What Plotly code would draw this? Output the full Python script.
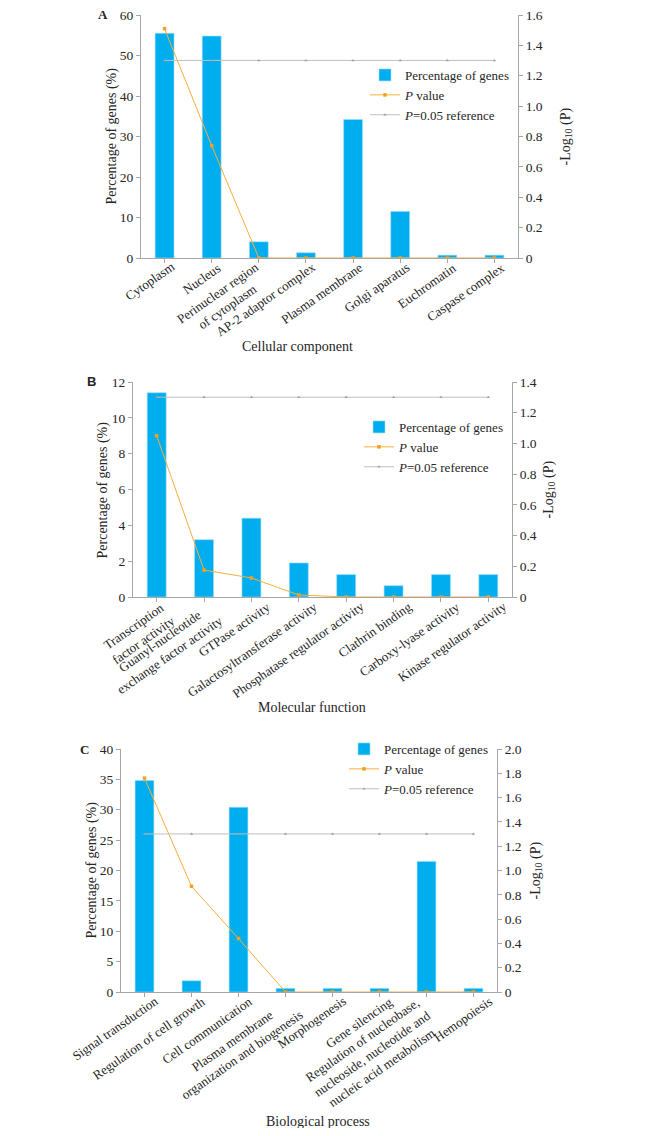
import plotly.graph_objects as go

# ---------------- data ----------------
cc_categories = ["Cytoplasm", "Nucleus", "Perinuclear region<br>of cytoplasm", "AP-2 adaptor complex",
                 "Plasma membrane", "Golgi aparatus", "Euchromatin", "Caspase complex"]
cc_percent = [55.5, 54.8, 4.0, 1.3, 34.2, 11.5, 0.7, 0.7]
cc_logp = [1.51, 0.74, 0.0, 0.0, 0.0, 0.0, 0.0, 0.0]

mf_categories = ["Transcription<br>factor activity", "Guanyl-nucleotide<br>exchange factor activity",
                 "GTPase activity", "Galactosyltransferase activity", "Phosphatase regulator activity",
                 "Clathrin binding", "Carboxy-lyase activity", "Kinase regulator activity"]
mf_percent = [11.4, 3.2, 4.4, 1.9, 1.25, 0.63, 1.25, 1.25]
mf_logp = [1.05, 0.175, 0.124, 0.013, 0.0, 0.0, 0.0, 0.0]

bp_categories = ["Signal transduction", "Regulation of cell growth", "Cell communication",
                 "Plasma membrane<br>organization and biogenesis", "Morphogenesis", "Gene silencing",
                 "Regulation of nucleobase,<br>nucleoside, nucleotide and<br>nucleic acid metabolism",
                 "Hemopoiesis"]
bp_percent = [34.8, 1.85, 30.4, 0.6, 0.6, 0.6, 21.5, 0.6]
bp_logp = [1.76, 0.87, 0.44, 0.0, 0.0, 0.0, 0.0, 0.0]

ref_value = 1.301  # -log10(0.05)

panel_letters = ["A", "B", "C"]
axis_titles = ["Cellular component", "Molecular function", "Biological process"]
left_ticks = [[0, 10, 20, 30, 40, 50, 60], [0, 2, 4, 6, 8, 10, 12], [0, 5, 10, 15, 20, 25, 30, 35, 40]]
right_ticks = [[0, 0.2, 0.4, 0.6, 0.8, 1.0, 1.2, 1.4, 1.6],
               [0, 0.2, 0.4, 0.6, 0.8, 1.0, 1.2, 1.4],
               [0, 0.2, 0.4, 0.6, 0.8, 1.0, 1.2, 1.4, 1.6, 1.8, 2.0]]

# ---------------- layout geometry (page pixels; body margin is 8px) ----------------
PAGE_W, PAGE_H, BODY = 648, 1136, 8
W, H = PAGE_W - 2 * BODY, PAGE_H - 2 * BODY
FONT = "Liberation Serif"
TXT = "#262626"
BAR = "#00AEEF"
ORANGE = "#F7AE3C"
GREY = "#BFBFBF"
AXC = "#A6A6A6"

panels = [
    dict(cats=cc_categories, pct=cc_percent, lp=cc_logp, x0=141, x1=518, y0=15, y1=258,
         ltitle_x=112, rtitle_x=566, letter_x=103, letter_font="Liberation Serif",
         xt_y=347, xt_x=297, leg_x=365, leg_y=60, lab_shift=15, extra=[0] * 8),
    dict(cats=mf_categories, pct=mf_percent, lp=mf_logp, x0=133, x1=512, y0=382, y1=597,
         ltitle_x=102, rtitle_x=549, letter_x=92, letter_font="Liberation Sans",
         xt_y=707, xt_x=312, leg_x=359, leg_y=412, lab_shift=24, extra=[0] * 8),
    dict(cats=bp_categories, pct=bp_percent, lp=bp_logp, x0=121, x1=497, y0=749, y1=992,
         ltitle_x=91, rtitle_x=536, letter_x=84, letter_font="Liberation Serif",
         xt_y=1121, xt_x=318, leg_x=344, leg_y=734, lab_shift=19,
         extra=[0, 0, 0, 4, 0, 0, 1, 5]),
]

def px_x(v):
    return (v - BODY) / W

def px_y(v):
    return 1 - (v - BODY) / H

fig = go.Figure()
annotations = []
layout = {}

for i, p in enumerate(panels):
    n = i + 1
    xa = "x" if n == 1 else f"x{n}"
    ya_l = f"y{2*n-1}" if n > 1 else "y"
    ya_r = f"y{2*n}"
    leg = "legend" if n == 1 else f"legend{n}"
    idx = list(range(len(p["cats"])))

    fig.add_trace(go.Bar(x=idx, y=p["pct"], xaxis=xa, yaxis=ya_l, name="Percentage of genes",
                         marker=dict(color=BAR, line=dict(color="#9EDCF5", width=0.6)),
                         width=0.4, legend=leg))
    fig.add_trace(go.Scatter(x=idx, y=p["lp"], xaxis=xa, yaxis=ya_r, name="<i>P</i> value",
                             mode="lines+markers", line=dict(color=ORANGE, width=1),
                             marker=dict(color="#F5A01E", size=3.5, symbol="square"), legend=leg))
    fig.add_trace(go.Scatter(x=idx, y=[ref_value] * len(idx), xaxis=xa, yaxis=ya_r,
                             name="<i>P</i>=0.05 reference", mode="lines+markers",
                             line=dict(color=GREY, width=1),
                             marker=dict(color="#A0A0A0", size=3, symbol="triangle-up"), legend=leg))

    xdom = [px_x(p["x0"]), px_x(p["x1"])]
    ydom = [px_y(p["y1"]), px_y(p["y0"])]
    xkey = "xaxis" if n == 1 else f"xaxis{n}"
    ylkey = "yaxis" if n == 1 else f"yaxis{2*n-1}"
    yrkey = f"yaxis{2*n}"
    lt = left_ticks[i]
    rt = right_ticks[i]
    layout[xkey] = dict(domain=xdom, anchor=ya_l, range=[-0.5, len(idx) - 0.5],
                        tickmode="array", tickvals=idx, showticklabels=False,
                        showline=True, linecolor=AXC, linewidth=1, ticks="outside",
                        tickson="boundaries", ticklen=4, tickcolor=AXC, showgrid=False,
                        zeroline=False, automargin=False)
    layout[ylkey] = dict(domain=ydom, anchor=xa, range=[0, lt[-1]], tickmode="array",
                         tickvals=lt, ticktext=[str(v) for v in lt],
                         showline=True, linecolor=AXC, linewidth=1, ticks="outside", ticklen=4,
                         tickcolor=AXC, tickfont=dict(family=FONT, size=13.5, color=TXT),
                         showgrid=False, zeroline=False, automargin=False,
                         ticklabeloverflow="allow")
    layout[yrkey] = dict(domain=ydom, anchor=xa, overlaying=ya_l, side="right",
                         range=[0, rt[-1]], tickmode="array", tickvals=rt,
                         ticktext=["0" if v == 0 else f"{v:.1f}" for v in rt],
                         showline=True, linecolor=AXC, linewidth=1, ticks="outside", ticklen=4,
                         tickcolor=AXC, tickfont=dict(family=FONT, size=13.5, color=TXT),
                         showgrid=False, zeroline=False, automargin=False,
                         ticklabeloverflow="allow")
    layout[leg] = dict(x=px_x(p["leg_x"]), y=px_y(p["leg_y"]), xanchor="left", yanchor="top",
                       bgcolor="rgba(0,0,0,0)", font=dict(family=FONT, size=13, color=TXT),
                       itemwidth=30, tracegroupgap=0)

    # category labels, placed at each category on the x axis
    for k, c in zip(idx, p["cats"]):
        annotations.append(dict(text=c, x=k, xref=xa, y=px_y(p["y1"] - 1), yref="paper",
                                showarrow=False, textangle=-35, align="center",
                                xanchor="right", yanchor="top",
                                xshift=p["lab_shift"] + p["extra"][k],
                                font=dict(family=FONT, size=13, color=TXT)))

    ymid = (p["y0"] + p["y1"]) / 2
    annotations += [
        dict(text="Percentage of genes (%)", x=px_x(p["ltitle_x"]), y=px_y(ymid), xref="paper",
             yref="paper", showarrow=False, textangle=-90, xanchor="center", yanchor="middle",
             font=dict(family=FONT, size=14, color=TXT)),
        dict(text="-Log<sub>10</sub> (P)", x=px_x(p["rtitle_x"]), y=px_y(ymid), xref="paper",
             yref="paper", showarrow=False, textangle=-90, xanchor="center", yanchor="middle",
             font=dict(family=FONT, size=14, color=TXT)),
        dict(text=axis_titles[i], x=px_x(p["xt_x"]), y=px_y(p["xt_y"]), xref="paper", yref="paper",
             showarrow=False, xanchor="center", yanchor="middle",
             font=dict(family=FONT, size=14, color=TXT)),
        dict(text="<b>" + panel_letters[i] + "</b>", x=px_x(p["letter_x"]), y=px_y(p["y0"]),
             xref="paper", yref="paper", showarrow=False, xanchor="center", yanchor="middle",
             font=dict(family=p["letter_font"], size=13, color=TXT)),
    ]

fig.update_layout(width=W, height=H, margin=dict(l=0, r=0, t=0, b=0), paper_bgcolor="white",
                  plot_bgcolor="white", bargap=0.6, annotations=annotations, showlegend=True,
                  **layout)

fig.write_html("out.html")
